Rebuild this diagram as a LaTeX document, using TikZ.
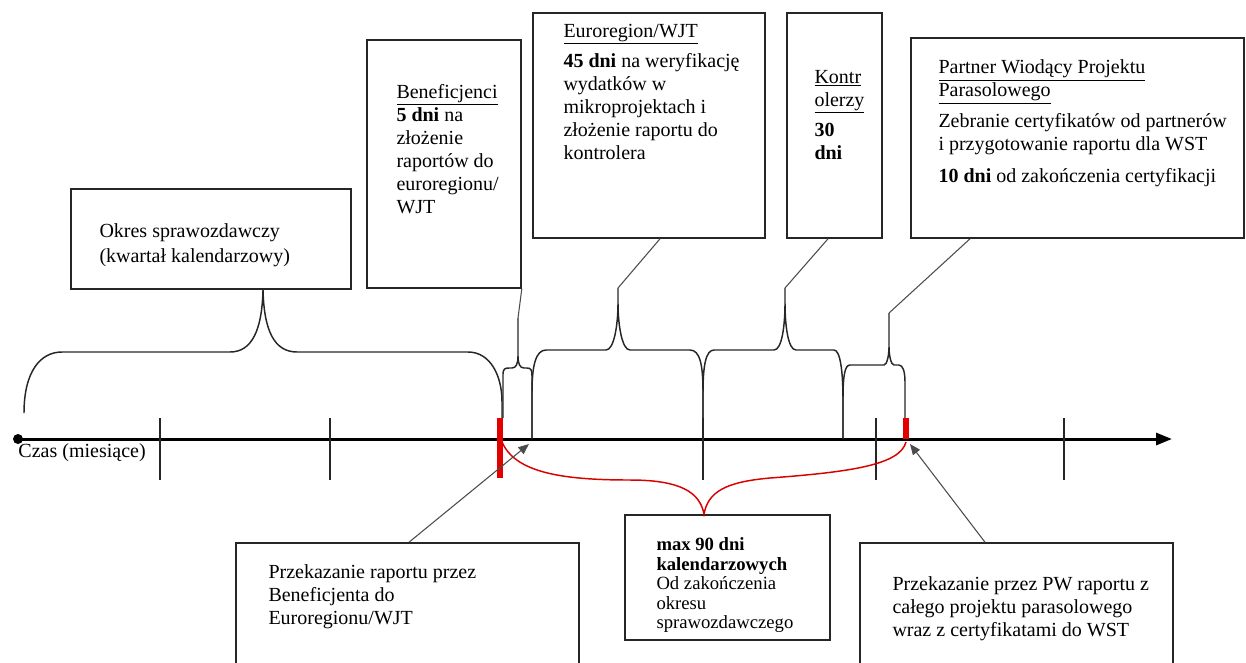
\documentclass[tikz,border=0pt]{standalone}
\usepackage{fontspec}
\setmainfont{Liberation Serif}
\usetikzlibrary{arrows.meta,fit}

\tikzset{every picture/.style={line width=0.75pt}}
\tikzset{
  box/.style={draw=black!85, line width=1.2pt, inner sep=0pt},
  txt/.style={inner sep=0pt, align=left, anchor=north west, font=\fontsize{15}{17.25}\selectfont},
  brace/.style={draw=black!85, line width=1.1pt},
  link/.style={draw=black!70, line width=0.8pt},
  pointer/.style={draw=black!70, line width=0.8pt, -{Triangle[length=8pt,width=6.5pt]}},
  tick/.style={draw=black!85, line width=1.1pt},
  redmark/.style={draw=red!90!black, line width=4.5pt},
}

\begin{document}
\begin{tikzpicture}[x=0.75pt,y=0.75pt,yscale=-1,xscale=1]
\clip (0,0) rectangle (1246,662);

%Shape: Boxes
\node[box, fit={(71,189) (351,289)}] (okres) {};
\node[box, fit={(367,40) (521,288)}] (benef) {};
\node[box, fit={(533,13) (765,238)}] (euro) {};
\node[box, fit={(787,13) (882,238)}] (kontr) {};
\node[box, fit={(911,38) (1244,238)}] (partner) {};
\node[box, fit={(236,543) (579,690)}] (przekaz) {};
\node[box, fit={(625,515) (830,640)}] (maxdni) {};
\node[box, fit={(860,543) (1173,690)}] (pwraport) {};

% Text Node
\node[txt] (okrestxt) at (99,223.5) {Okres sprawozdawczy\\[1.5pt](kwartał kalendarzowy)};
% Text Node
\node[txt] (beneftxt) at (396,83.5) {\underline{Beneficjenci}\\\textbf{5 dni} na\\złożenie\\raportów do\\euroregionu/\\WJT};
% Text Node
\node[txt] (eurotxt) at (563,23.5) {\underline{Euroregion/WJT}\\[5.25pt]\textbf{45 dni} na weryfikację\\wydatków w\\mikroprojektach i\\złożenie raportu do\\kontrolera};
% Text Node
\node[txt] (kontrtxt) at (814,69.5) {\underline{Kontr}\\\underline{olerzy}\\[5.25pt]\textbf{30}\\\textbf{dni}};
% Text Node
\node[txt] (partnertxt) at (938,59.5) {\underline{Partner Wiodący Projektu}\\\underline{Parasolowego}\\[6pt]Zebranie certyfikatów od partnerów\\i przygotowanie raportu dla WST\\[6.75pt]\textbf{10 dni} od zakończenia certyfikacji};
% Text Node
\node[txt] (przekaztxt) at (268,564.5) {Przekazanie raportu przez\\Beneficjenta do\\Euroregionu/WJT};
% Text Node
\node[txt, font=\fontsize{14}{14.6}\selectfont] (maxdnitxt) at (656,537.5) {\textbf{max 90 dni}\\\textbf{kalendarzowych}\\Od zakończenia\\okresu\\sprawozdawczego};
% Text Node
\node[txt] (pwraporttxt) at (892,576.5) {Przekazanie przez PW raportu z\\całego projektu parasolowego\\wraz z certyfikatami do WST};

%Shape: Axis
\node[circle, fill=black, inner sep=0pt, minimum size=7.5pt] (start) at (18,439) {};
\coordinate (axisend) at (1172,439);
\draw[line width=2.25pt, -{Triangle[length=12pt,width=9pt]}] (start.center) -- (axisend);
\node[anchor=base west, inner sep=0pt, font=\fontsize{15}{17.25}\selectfont] (czas) at (18,457) {Czas (miesiące)};

%Shape: Ticks
\draw[tick] (160,418) -- (160,480);
\draw[tick] (330,418) -- (330,480);
\draw[tick] (703,418) -- (703,480);
\draw[tick] (876,418) -- (876,480);
\draw[tick] (1064,418) -- (1064,480);

%Shape: Brace
\coordinate (okrestip) at (263,290);
\draw[brace] (24,413) .. controls (24,372) and (40,352) .. (62,352) -- (230,352) .. controls (252,352) and (262,330) .. (okrestip) .. controls (264,330) and (274,352) .. (297,352) -- (468,352) .. controls (490,352) and (502,375) .. (502,402) -- (502,418) ;
%Shape: Brace
\coordinate (beneftip) at (518,318);
\draw[brace] (503,418) -- (503,374) .. controls (503,369) and (505,368) .. (509,368) -- (512,368) .. controls (516,368) and (518,364) .. (518,356) -- (beneftip) -- (518,356) .. controls (518,364) and (520,368) .. (524,368) -- (527,368) .. controls (531,368) and (532,370) .. (532,376) -- (532,439) ;
%Shape: Brace
\coordinate (eurotip) at (618,288);
\draw[brace] (532,439) -- (532,392) .. controls (532,365) and (536,350) .. (546,350) -- (606,350) .. controls (614,350) and (618,325) .. (618,303) -- (eurotip) -- (618,303) .. controls (618,325) and (622,350) .. (630,350) -- (690,350) .. controls (700,350) and (703,365) .. (703,392) -- (703,420) ;
%Shape: Brace
\coordinate (kontrtip) at (785,288);
\draw[brace] (703,420) -- (703,392) .. controls (703,365) and (706,350) .. (714,350) -- (774,350) .. controls (782,350) and (785,325) .. (785,303) -- (kontrtip) -- (785,303) .. controls (785,325) and (788,350) .. (796,350) -- (834,350) .. controls (840,350) and (843,370) .. (843,400) -- (843,439) ;
%Shape: Brace
\coordinate (partnertip) at (889,313);
\draw[brace] (843,439) -- (843,398) .. controls (843,375) and (845,365) .. (850,365) -- (884,365) .. controls (887,365) and (889,355) .. (889,347) -- (partnertip) -- (889,347) .. controls (889,355) and (891,365) .. (894,365) -- (899,365) .. controls (903,365) and (905,372) .. (905,382) -- (905,418) ;

%Shape: Brace (red)
\draw[red!85!black, line width=1.1pt] (502,442) .. controls (515,472) and (560,480) .. (630,480) .. controls (680,480) and (700,492) .. (maxdni.north -| 704,0) .. controls (708,492) and (725,482) .. (770,478) .. controls (850,472) and (900,465) .. (906,442) ;

% links from braces to boxes
\draw[link] (beneftip) -- (benef.south east);
\draw[link] (eurotip) -- (euro.south -| 660,0);
\draw[link] (kontrtip) -- (kontr.south -| 828,0);
\draw[link] (partnertip) -- (partner.south -| 970,0);

%Shape: Red marks
\draw[redmark] (500,418) -- (500,478);
\draw[redmark] (906,418) -- (906,439);

% Arrows
\draw[pointer] (przekaz.north -| 409,0) -- (529,444);
\draw[pointer] (pwraport.north -| 985,0) -- (910,444);
\end{tikzpicture}
\end{document}
